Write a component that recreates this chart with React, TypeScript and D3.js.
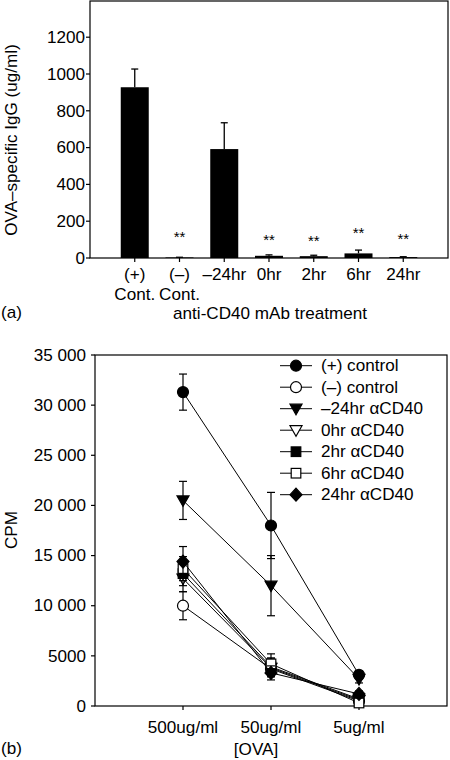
import React from "react";
import * as d3 from "d3";

// Panel (a)
const barCategories = ["(+)|Cont.", "(–)|Cont.", "–24hr", "0hr", "2hr", "6hr", "24hr"];
const barValues = [928, 3, 592, 12, 10, 25, 5];
const barErrors = [99, 1, 143, 5, 5, 18, 2];
const starLevels = [null, 136, null, 120, 112, 158, 125];
const barTicks = [0, 200, 400, 600, 800, 1000, 1200];

// Panel (b)
const doseLabels = ["500ug/ml", "50ug/ml", "5ug/ml"];
const seriesNames = ["(+) control", "(–) control", "–24hr αCD40", "0hr αCD40", "2hr αCD40", "6hr αCD40", "24hr αCD40"];
const seriesMarkers = ["circleFilled", "circleOpen", "triDownFilled", "triDownOpen", "squareFilled", "squareOpen", "diamondFilled"];
const posCtrl = [31300, 18000, 3100];
const posCtrlErr = [1800, 3300, 400];
const negCtrl = [10000, 3700, 500];
const negCtrlErr = [1400, 700, 200];
const m24 = [20500, 12000, 2700];
const m24Err = [1900, 3000, 400];
const h0 = [12700, 3800, 600];
const h0Err = [1300, 900, 200];
const h2 = [13200, 3900, 700];
const h2Err = [1200, 900, 200];
const h6 = [13700, 4200, 300];
const h6Err = [1200, 1000, 200];
const h24 = [14400, 3300, 1200];
const h24Err = [1500, 700, 300];
const cpmTicks = [0, 5000, 10000, 15000, 20000, 25000, 30000, 35000];
const cpmTickLabels = ["0", "5000", "10 000", "15 000", "20 000", "25 000", "30 000", "35 000"];

const FONT = "Arial, 'Liberation Sans', Helvetica, sans-serif";
const FS = 16;
const SX = 1.07;

function T({
  x,
  y,
  anchor = "start",
  size = FS,
  rotate = 0,
  dy,
  children,
}: {
  x: number;
  y: number;
  anchor?: string;
  size?: number;
  rotate?: number;
  dy?: string;
  children: React.ReactNode;
}) {
  const tr = rotate
    ? `translate(${x},${y}) rotate(${rotate}) scale(${SX},1)`
    : `translate(${x},${y}) scale(${SX},1)`;
  return (
    <text transform={tr} textAnchor={anchor} fontSize={size} dy={dy}>
      {children}
    </text>
  );
}

function Marker({ type, x, y }: { type: string; x: number; y: number }) {
  const filled = type.includes("Filled");
  const fill = filled ? "#000" : "#fff";
  const common = { fill, stroke: "#000", strokeWidth: 1.2 };
  if (type.startsWith("circle")) return <circle cx={x} cy={y} r={5.5} {...common} />;
  if (type.startsWith("triDown"))
    return <path d={`M${x - 6},${y - 4.5}L${x + 6},${y - 4.5}L${x},${y + 6}Z`} {...common} />;
  if (type.startsWith("square")) return <rect x={x - 4.8} y={y - 4.8} width={9.6} height={9.6} {...common} />;
  return <path d={`M${x},${y - 6.5}L${x + 6},${y}L${x},${y + 6.5}L${x - 6},${y}Z`} {...common} />;
}

export default function App() {
  // panel a
  const aL = 90, aR = 448, aT = 1, aB = 258;
  const ya = d3.scaleLinear().domain([0, 1400]).range([aB, 0.4]);
  const xa = d3.scaleLinear().domain([0, 8]).range([aL, aR]);
  const bw = 28;

  // panel b
  const bL = 95, bR = 447, bT = 355, bB = 706;
  const yb = d3.scaleLinear().domain([0, 35000]).range([bB, bT]);
  const xb = d3.scaleLinear().domain([0, 4]).range([bL, bR]);
  const series = [
    [posCtrl, posCtrlErr],
    [negCtrl, negCtrlErr],
    [m24, m24Err],
    [h0, h0Err],
    [h2, h2Err],
    [h6, h6Err],
    [h24, h24Err],
  ];
  const line = d3
    .line<number>()
    .x((_, i) => xb(i + 1))
    .y((d) => yb(d));

  const drawOrder = [1, 3, 4, 5, 6, 2, 0];

  return (
    <svg width={450} height={760} style={{ position: "absolute", left: 0, top: 0 }} fontFamily={FONT}>
      <rect width={450} height={760} fill="#fff" />
      {/* Panel a */}
      <rect x={aL} y={aT} width={aR - aL} height={aB - aT} fill="none" stroke="#000" strokeWidth={1.2} />
      {barTicks.map((t) => (
        <g key={t}>
          <line x1={aL - 4} x2={aL} y1={ya(t)} y2={ya(t)} stroke="#000" strokeWidth={1.2} />
          <T x={aL - 5} y={ya(t)} dy="0.36em" anchor="end">
            {t}
          </T>
        </g>
      ))}
      {barCategories.map((c, i) => {
        const cx = xa(i + 1);
        const v = barValues[i];
        const parts = c.split("|");
        return (
          <g key={c}>
            <rect x={cx - bw / 2} y={ya(v)} width={bw} height={aB - ya(v)} fill="#000" />
            <line x1={cx} x2={cx} y1={ya(v)} y2={ya(v + barErrors[i])} stroke="#000" strokeWidth={1.3} />
            <line x1={cx - 3.5} x2={cx + 3.5} y1={ya(v + barErrors[i])} y2={ya(v + barErrors[i])} stroke="#000" strokeWidth={1.3} />
            <line x1={cx} x2={cx} y1={aB} y2={aB + 4} stroke="#000" strokeWidth={1.2} />
            {parts.map((p, k) => (
              <T key={k} x={cx} y={280 + k * 20} anchor="middle">
                {p}
              </T>
            ))}
            {starLevels[i] !== null && (
              <T x={cx} y={ya(starLevels[i] as number) + 9} anchor="middle" size={14}>
                **
              </T>
            )}
          </g>
        );
      })}
      <T x={270} y={319} anchor="middle">
        anti-CD40 mAb treatment
      </T>
      <T x={1} y={318}>
        (a)
      </T>
      <T x={17} y={140} anchor="middle" rotate={-90}>
        OVA–specific IgG (ug/ml)
      </T>

      {/* Panel b */}
      <rect x={bL} y={bT} width={bR - bL} height={bB - bT} fill="none" stroke="#000" strokeWidth={1.2} />
      {cpmTicks.map((t, i) => (
        <g key={t}>
          <line x1={bL - 4} x2={bL} y1={yb(t)} y2={yb(t)} stroke="#000" strokeWidth={1.2} />
          <T x={bL - 9} y={yb(t)} dy="0.36em" anchor="end">
            {cpmTickLabels[i]}
          </T>
        </g>
      ))}
      {doseLabels.map((d, i) => (
        <g key={d}>
          <line x1={xb(i + 1)} x2={xb(i + 1)} y1={bB} y2={bB + 4} stroke="#000" strokeWidth={1.2} />
          <T x={xb(i + 1)} y={733} anchor="middle">
            {d}
          </T>
        </g>
      ))}
      <T x={256} y={755} anchor="middle">
        [OVA]
      </T>
      <T x={1} y={754}>
        (b)
      </T>
      <T x={17} y={530} anchor="middle" rotate={-90}>
        CPM
      </T>
      {drawOrder.map((si) => {
        const [vals, errs] = series[si];
        return (
          <g key={si}>
            <path d={line(vals) as string} fill="none" stroke="#000" strokeWidth={1} />
            {vals.map((v, i) => {
              const x = xb(i + 1);
              const hi = yb(v + errs[i]);
              const lo = yb(Math.max(0, v - errs[i]));
              return (
                <g key={i}>
                  <line x1={x} x2={x} y1={hi} y2={lo} stroke="#000" strokeWidth={1.2} />
                  <line x1={x - 4} x2={x + 4} y1={hi} y2={hi} stroke="#000" strokeWidth={1.2} />
                  <line x1={x - 4} x2={x + 4} y1={lo} y2={lo} stroke="#000" strokeWidth={1.2} />
                </g>
              );
            })}
            {vals.map((v, i) => (
              <Marker key={"m" + i} type={seriesMarkers[si]} x={xb(i + 1)} y={yb(v)} />
            ))}
          </g>
        );
      })}
      {/* Legend */}
      {seriesNames.map((n, i) => {
        const y = 365.7 + i * 21.5;
        return (
          <g key={n}>
            <line x1={280} x2={312} y1={y} y2={y} stroke="#000" strokeWidth={1} />
            <Marker type={seriesMarkers[i]} x={296} y={y} />
            <T x={321} y={y} dy="0.36em">
              {n}
            </T>
          </g>
        );
      })}
    </svg>
  );
}
